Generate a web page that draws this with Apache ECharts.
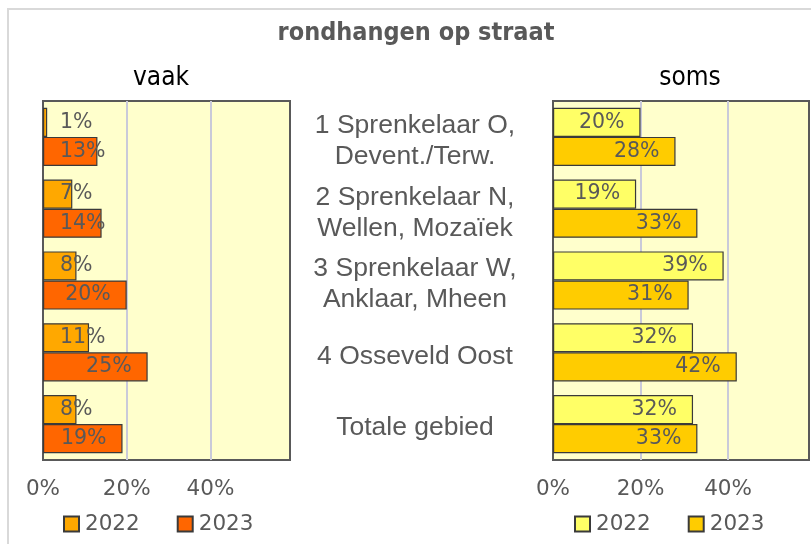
<!DOCTYPE html>
<html>
<head>
<meta charset="utf-8">
<script src="https://cdn.jsdelivr.net/npm/echarts@6/dist/echarts.min.js"></script>
<style>
  html, body { margin: 0; padding: 0; background: #fff; }
  #chart { width: 811px; height: 544px; }
</style>
</head>
<body>
<div id="chart"></div>
<script>
// categorieen (van boven naar beneden)
const categories = [
  "1 Sprenkelaar O,\nDevent./Terw.",
  "2 Sprenkelaar N,\nWellen, Mozaïek",
  "3 Sprenkelaar W,\nAnklaar, Mheen",
  "4 Osseveld Oost",
  "Totale gebied"
];
const years = ["2022", "2023"];
// vaak
const vaak2022 = [1, 7, 8, 11, 8];
const vaak2023 = [13, 14, 20, 25, 19];
// soms
const soms2022 = [20, 19, 39, 32, 32];
const soms2023 = [28, 33, 31, 42, 33];

const textGray = "#595959";
const labelFont = "DejaVu Sans";
const condensed = "Liberation Sans Narrow, DejaVu Sans Condensed, sans-serif";

// label: rechts in de balk, of links als de balk te kort is
function withLabels(values) {
  return values.map(v => {
    if (v < 15) {
      return {
        value: v,
        label: { position: [17, "50%"], align: "left", verticalAlign: "middle" }
      };
    }
    return { value: v };
  });
}

function barSeries(name, values, color, axisIdx) {
  return {
    name: name,
    type: "bar",
    xAxisIndex: axisIdx,
    yAxisIndex: axisIdx,
    barGap: "0%",
    barCategoryGap: "19%",
    itemStyle: { color: color, borderColor: "#3a3a3a", borderWidth: 1.2 },
    label: {
      show: true,
      position: "insideRight",
      distance: 16,
      formatter: "{c}%",
      color: textGray,
      fontSize: 20.5,
      fontFamily: labelFont
    },
    data: withLabels(values)
  };
}

function valueAxis(idx, max) {
  return {
    type: "value",
    gridIndex: idx,
    min: 0,
    max: max,
    interval: 20,
    axisLine: { show: false },
    axisTick: { show: false },
    // eerste en laatste lijn vormen de rand van het plotvlak
    splitLine: { lineStyle: { color: ["#595959", "#C9CAD9", "#C9CAD9", "#595959"], width: 2 } },
    axisLabel: {
      showMaxLabel: false,
      formatter: "{value}%",
      color: textGray,
      fontSize: 21.5,
      fontFamily: labelFont,
      margin: 18
    }
  };
}

function legend(names, left) {
  return {
    data: names.map(n => ({ name: n })),
    left: left, top: 513,
    padding: 0,
    itemWidth: 15, itemHeight: 15, itemGap: 37,
    icon: "rect",
    formatter: n => n.trim(),
    textStyle: { color: textGray, fontSize: 21.5, fontFamily: labelFont, padding: [0, 0, 0, 1] },
    selectedMode: false
  };
}

const chart = echarts.init(document.getElementById("chart"));
const option = {
  animation: false,
  backgroundColor: "#fff",
  graphic: [{
    type: "rect",
    shape: { x: 8, y: 9, width: 900, height: 700 },
    style: { fill: "none", stroke: "#D9D9D9", lineWidth: 2 },
    silent: true
  }],
  title: [
    {
      text: "rondhangen op straat",
      left: 411, top: 16, textAlign: "center",
      textStyle: { color: textGray, fontSize: 25, fontWeight: "bold", fontFamily: condensed }
    },
    {
      text: "vaak",
      left: 156, top: 60, textAlign: "center",
      textStyle: { color: "#000", fontSize: 26, fontWeight: "normal", fontFamily: condensed }
    },
    {
      text: "soms",
      left: 685, top: 60, textAlign: "center",
      textStyle: { color: "#000", fontSize: 26, fontWeight: "normal", fontFamily: condensed }
    }
  ],
  legend: [
    legend(years, 63),
    legend(["2022 ", "2023 "], 574)
  ],
  grid: [
    { left: 43, top: 101, width: 247, height: 359, show: true, backgroundColor: "#FFFFCC", borderColor: "#595959", borderWidth: 2 },
    { left: 553, top: 101, width: 256, height: 359, show: true, backgroundColor: "#FFFFCC", borderColor: "#595959", borderWidth: 2 },
    // onzichtbaar vlak voor de gebiedsnamen in het midden
    { left: 415, top: 105, width: 1, height: 359 }
  ],
  xAxis: [
    valueAxis(0, 59),
    valueAxis(1, 58.5),
    { type: "value", gridIndex: 2, min: 0, max: 1, show: false }
  ],
  yAxis: [
    {
      type: "category", gridIndex: 0, data: categories, inverse: true,
      axisLine: { show: false }, axisTick: { show: false }, axisLabel: { show: false }
    },
    {
      type: "category", gridIndex: 1, data: categories, inverse: true,
      axisLine: { show: false }, axisTick: { show: false }, axisLabel: { show: false }
    },
    {
      type: "category", gridIndex: 2, data: categories, inverse: true,
      axisLine: { show: false }, axisTick: { show: false }, splitLine: { show: false },
      axisLabel: {
        align: "center", margin: 0,
        color: textGray, fontSize: 26.5, lineHeight: 31,
        fontFamily: "Liberation Sans, Arial, sans-serif"
      }
    }
  ],
  series: [
    barSeries("2022", vaak2022, "#FFA800", 0),
    barSeries("2023", vaak2023, "#FF6600", 0),
    barSeries("2022 ", soms2022, "#FFFF66", 1),
    barSeries("2023 ", soms2023, "#FFCC00", 1)
  ]
};
chart.setOption(option);
</script>
</body>
</html>
